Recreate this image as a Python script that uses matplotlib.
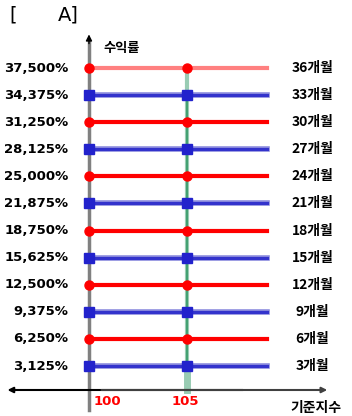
import matplotlib.pyplot as plt
import numpy as np

plt.rcParams['font.family'] = ['DejaVu Sans', 'Noto Sans CJK KR']

# Datos
returns = [3.125, 6.25, 9.375, 12.5, 15.625, 18.75, 21.875, 25.0, 28.125, 31.25, 34.375, 37.5]
return_labels = ["3,125%", "6,250%", "9,375%", "12,500%", "15,625%", "18,750%",
                 "21,875%", "25,000%", "28,125%", "31,250%", "34,375%", "37,500%"]
months = ["3개월", "6개월", "9개월", "12개월", "15개월", "18개월",
          "21개월", "24개월", "27개월", "30개월", "33개월", "36개월"]
x_ticks = [100, 105]
x_tick_labels = ["100", "105"]

# Figura en coordenadas de datos que coinciden con la imagen
fig = plt.figure(figsize=(3.52, 4.16), dpi=100)
ax = fig.add_axes([0, 0, 1, 1])
ax.set_xlim(95.46, 113.42)
ax.set_ylim(-2.64, 45.35)
ax.axis("off")

x0, x1 = x_ticks
line_end = 109.1
axis_y = 0.36

# Eje x con flechas
ax.annotate("", xy=(95.7, axis_y), xytext=(108, axis_y),
            arrowprops=dict(arrowstyle="-|>", color="black", lw=1.5, mutation_scale=8))
ax.annotate("", xy=(112.3, axis_y), xytext=(100.5, axis_y),
            arrowprops=dict(arrowstyle="-|>", color="#404040", lw=1.5, mutation_scale=8))

# Eje y
ax.plot([x0, x0], [-1.9, 40.5], color="#808080", lw=2.5, zorder=2)
ax.annotate("", xy=(x0, 41.7), xytext=(x0, 40.0),
            arrowprops=dict(arrowstyle="-|>", color="black", lw=1, mutation_scale=9))

# Linea vertical verde en 105
ax.plot([x1, x1], [returns[0], returns[-1]], color="#99CCB3", lw=3, zorder=2)
ax.plot([x1, x1], [returns[0], returns[-2]], color="#339966", lw=1.2, zorder=2)
ax.plot([x1, x1], [axis_y, returns[0]], color="#99CCB3", lw=5, zorder=2)

# Lineas horizontales
for i, r in enumerate(returns):
    if i % 2 == 0:
        color, marker = "#2222CC", "s"
        ax.plot([x0, line_end], [r, r], color="#8888DD", lw=4, zorder=3)
        ax.plot([x0, line_end], [r, r], color="#3333CC", lw=2.2, zorder=3)
    else:
        color, marker = "#FF0000", "o"
        lc = "#FF8080" if r == returns[-1] else color
        ax.plot([x0, line_end], [r, r], color=lc, lw=3, zorder=3)
    ax.plot([x0, x1], [r, r], linestyle="none", marker=marker, color=color,
            markersize=6.5, zorder=4)
    ax.text(98.95, r, return_labels[i], ha="right", va="center",
            fontsize=9.5, fontweight="bold")
    ax.text(111.4, r, months[i], ha="center", va="center",
            fontsize=10, fontweight="bold", family=['Noto Sans CJK KR', 'DejaVu Sans'])

# Etiquetas del eje x
ax.text(x0 + 0.95, -0.95, x_tick_labels[0], ha="center", va="center",
        color="red", fontsize=9.5, fontweight="bold")
ax.text(x1 - 0.1, -0.95, x_tick_labels[1], ha="center", va="center",
        color="red", fontsize=9.5, fontweight="bold")

ax.text(111.6, -1.75, "기준지수", ha="center", va="center", fontsize=10,
        fontweight="bold", family=['Noto Sans CJK KR', 'DejaVu Sans'])
ax.text(100.75, 39.8, "수익률", ha="left", va="center", fontsize=9.5,
        fontweight="bold", family=['Noto Sans CJK KR', 'DejaVu Sans'])
ax.text(95.95, 43.6, "[", ha="left", va="center", fontsize=14)
ax.text(98.4, 43.6, "A]", ha="left", va="center", fontsize=14)

plt.savefig("out.png", dpi=100)
plt.close()
